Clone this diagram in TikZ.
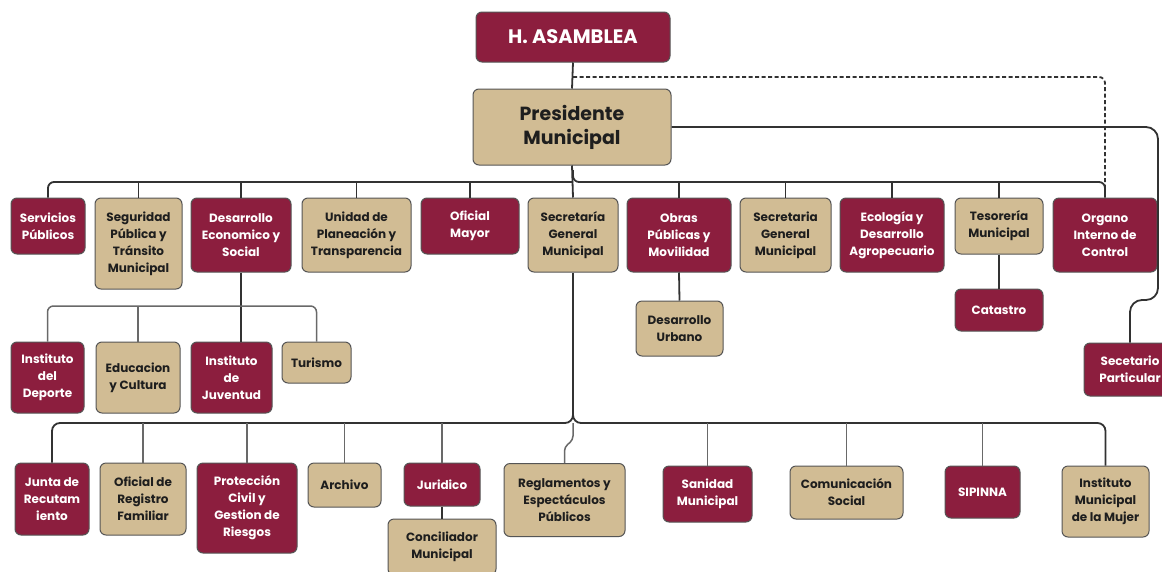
\documentclass[tikz,border=0pt]{standalone}
\usepackage{fontspec}
\setmainfont{Poppins}
\definecolor{boxred}{RGB}{140,30,62}
\definecolor{boxtan}{RGB}{209,188,148}
\definecolor{boxline}{RGB}{85,85,85}
\definecolor{txtdark}{RGB}{30,30,30}
\definecolor{linedark}{RGB}{50,50,50}
\definecolor{linegray}{RGB}{105,105,105}
\tikzset{
  box/.style={draw=boxline, line width=1pt, rounded corners=6pt, align=center, inner sep=2pt,
    font=\fontsize{12}{17}\selectfont\bfseries},
  rbox/.style={box, fill=boxred, text=white},
  tbox/.style={box, fill=boxtan, text=txtdark},
  conn/.style={draw=linedark, line width=1.8pt},
  lconn/.style={draw=linegray, line width=1.5pt},
  sz/.style 2 args={minimum width=#1pt, minimum height=#2pt},
}
\begin{document}
\begin{tikzpicture}[x=1pt,y=-1pt]
\useasboundingbox (0,0) rectangle (1162,571);
\clip (0,0) rectangle (1162,571);
\fill[white] (0,0) rectangle (1162,571);

% top
\node[rbox, sz={194}{50}, font=\fontsize{19.5}{22}\selectfont\bfseries] (asam) at (573,37) {H. ASAMBLEA};
\node[tbox, sz={198}{76}, font=\fontsize{19}{24}\selectfont\bfseries] (pres) at (572,127) {Presidente\\Municipal};

% row 1
\node[rbox, sz={74}{56}] (serv) at (48,226) {Servicios\\Públicos};
\node[tbox, sz={87}{91}] (seg) at (138.5,243.5) {Seguridad\\Pública y\\Tránsito\\Municipal};
\node[rbox, sz={100}{74}] (des) at (241,235) {Desarrollo\\Economico y\\Social};
\node[tbox, sz={109}{74}] (uni) at (356.5,235) {Unidad de\\Planeación y\\Transparencia};
\node[rbox, sz={98}{56}] (ofi) at (470,226) {Oficial\\Mayor};
\node[tbox, sz={90}{74}] (sec) at (573,235) {Secretaría\\General\\Municipal};
\node[rbox, sz={104}{74}] (obr) at (679,235) {Obras\\Públicas y\\Movilidad};
\node[tbox, sz={91}{74}] (sec2) at (785.5,235) {Secretaria\\General\\Municipal};
\node[rbox, sz={104}{74}] (eco) at (892,235) {Ecología y\\Desarrollo\\Agropecuario};
\node[tbox, sz={88}{56}] (tes) at (999,226) {Tesorería\\Municipal};
\node[rbox, sz={104}{74}] (org) at (1105,235) {Organo\\Interno de\\Control};

% row 2
\node[tbox, sz={87}{55}] (dur) at (679.5,328.5) {Desarrollo\\Urbano};
\node[rbox, sz={88}{42}] (cat) at (999,310) {Catastro};
\node[rbox, sz={92}{53}] (secp) at (1130,369.5) {Secetario\\Particular};
\node[rbox, sz={73}{71}] (dep) at (47.5,377.5) {Instituto\\del\\Deporte};
\node[tbox, sz={84}{71}] (edu) at (138,377.5) {Educacion\\y Cultura};
\node[rbox, sz={81}{71}] (juv) at (231.5,377.5) {Instituto\\de\\Juventud};
\node[tbox, sz={69}{41}] (tur) at (316.5,362.5) {Turismo};

% row 3
\node[rbox, sz={74}{72}] (jun) at (52,499) {Junta de\\Recutam\\iento};
\node[tbox, sz={86}{72}] (reg) at (143,499) {Oficial de\\Registro\\Familiar};
\node[rbox, sz={100}{90}] (pro) at (247,508) {Protección\\Civil y\\Gestion de\\Riesgos};
\node[tbox, sz={73}{44}] (arc) at (344.5,485) {Archivo};
\node[rbox, sz={76}{43}] (jur) at (442,484.5) {Juridico};
\node[tbox, sz={108}{56}] (con) at (442,547) {Conciliador\\Municipal};
\node[tbox, sz={121}{73}] (rgl) at (564.5,500) {Reglamentos y\\Espectáculos\\Públicos};
\node[rbox, sz={89}{56}] (san) at (707.5,494) {Sanidad\\Municipal};
\node[tbox, sz={113}{53}] (com) at (846.5,492.5) {Comunicación\\Social};
\node[rbox, sz={75}{52}] (sip) at (982.5,492) {SIPINNA};
\node[tbox, sz={87}{71}] (muj) at (1105.5,501.5) {Instituto\\Municipal\\de la Mujer};

% coordinates
\coordinate (dj) at (573,77);
\coordinate (b1) at (573,182);
\coordinate (b1u) at (573,170);
\coordinate (b2) at (241,306);
\coordinate (b3) at (573,423);
\coordinate (b3u) at (573,405);
\coordinate (r1) at (1158,127);
\coordinate (r2) at (1158,300);
\coordinate (jg1) at (573,440);
\coordinate (jg2) at (564.5,447);

% connectors
\draw[conn] (asam.south) -- (pres.north);
\draw[conn] (pres.south) -- (sec.north);
\draw[conn, dashed, dash pattern=on 4pt off 2.5pt, rounded corners=6pt] (dj) -- (org.north |- dj) -- (org.north);
\draw[conn, rounded corners=12pt] (pres.east) -- (r1) -- (r2) -- (secp.north |- r2) -- (secp.north);

\draw[conn, rounded corners=6pt] (serv.north) -- (serv.north |- b1) -- (b1);
\draw[conn, rounded corners=6pt] (b1u) -- (b1) -- (org.north |- b1) -- (org.north);
\foreach \n in {seg,des,uni,ofi,obr,sec2,eco,tes}
  \draw[conn] (\n.north) -- (\n.north |- b1);

\draw[conn] (obr.south) -- (dur.north);
\draw[conn] (tes.south) -- (cat.north);

\draw[conn] (des.south) -- (des.south |- juv.north);
\draw[lconn, rounded corners=6pt] (dep.north) -- (dep.north |- b2) -- (tur.north |- b2) -- (tur.north);
\draw[lconn] (edu.north) -- (edu.north |- b2);

\draw[conn] (sec.south) -- (b3u);
\draw[conn, rounded corners=8pt] (b3u) -- (b3) -- (jun.north |- b3) -- (jun.north);
\draw[conn, rounded corners=8pt] (b3u) -- (b3) -- (muj.north |- b3) -- (muj.north);
\foreach \n in {reg,pro,arc,jur,san,com,sip}
  \draw[lconn] (\n.north) -- (\n.north |- b3);
\draw[lconn, rounded corners=4pt] (b3) -- (jg1) -- (jg2) -- (rgl.north);
\draw[conn] (jur.south) -- (con.north);
\end{tikzpicture}
\end{document}
